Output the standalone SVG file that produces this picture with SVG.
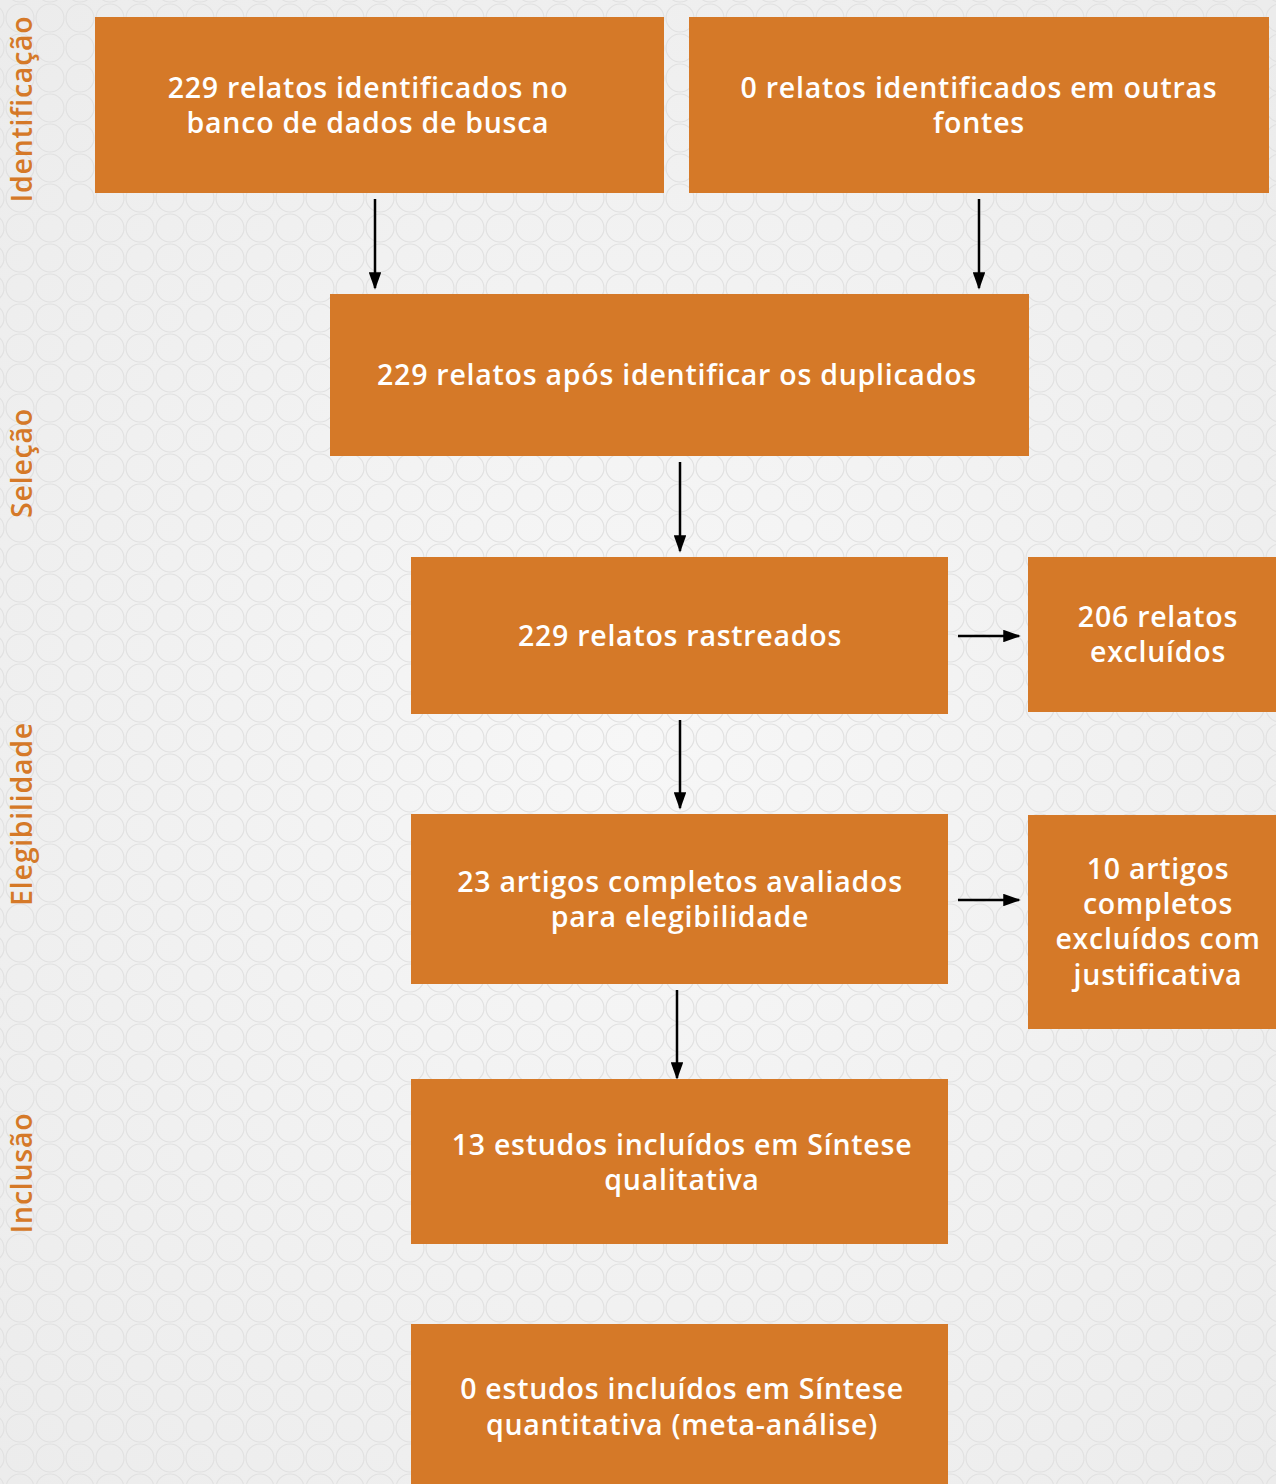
<svg xmlns="http://www.w3.org/2000/svg" width="1276" height="1484" viewBox="0 0 1276 1484">
<defs>
<radialGradient id="bg" cx="0.5" cy="0.5" r="0.7">
<stop offset="0" stop-color="#f7f7f7"/>
<stop offset="1" stop-color="#ececec"/>
</radialGradient>
<pattern id="circ" x="5" y="3" width="30" height="30" patternUnits="userSpaceOnUse">
<circle cx="15" cy="15" r="14" fill="none" stroke="#e1e1e1" stroke-width="1.2"/>
</pattern>
<marker id="ah" viewBox="0 0 10 10" refX="9" refY="5" markerWidth="7" markerHeight="5" orient="auto" markerUnits="strokeWidth" preserveAspectRatio="none">
<path d="M0,0 L10,5 L0,10 Z" fill="#000"/>
</marker>
<style>
.box{fill:#d57928}
.t{font-family:"Open Sans","Liberation Sans",sans-serif;font-weight:600;font-size:28.5px;fill:#fff;text-anchor:middle;letter-spacing:0.75px}
.side{font-family:"Open Sans","Liberation Sans",sans-serif;font-weight:600;font-size:28.5px;fill:#d57928;text-anchor:middle;letter-spacing:0.75px}
.c{stroke:#000;stroke-width:2.5;fill:none;marker-end:url(#ah)}
</style>
</defs>
<rect width="1276" height="1484" fill="url(#bg)"/>
<rect width="1276" height="1484" fill="url(#circ)"/>
<g id="labels">
<text class="side" transform="translate(32,109) rotate(-90)">Identificação</text>
<text class="side" transform="translate(32,463) rotate(-90)">Seleção</text>
<text class="side" transform="translate(32,814) rotate(-90)">Elegibilidade</text>
<text class="side" transform="translate(32,1173) rotate(-90)">Inclusão</text>
</g>
<g id="connectors">
<line class="c" x1="375" y1="199" x2="375" y2="288"/>
<line class="c" x1="979" y1="199" x2="979" y2="288"/>
<line class="c" x1="680" y1="462" x2="680" y2="551"/>
<line class="c" x1="680" y1="720" x2="680" y2="808"/>
<line class="c" x1="677" y1="990" x2="677" y2="1078"/>
<line class="c" x1="958" y1="636" x2="1019" y2="636"/>
<line class="c" x1="958" y1="900" x2="1019" y2="900"/>
</g>
<g id="n1"><rect class="box" x="95" y="17" width="569" height="176"/>
<text class="t" x="368" y="98">229 relatos identificados no</text>
<text class="t" x="368" y="133">banco de dados de busca</text></g>
<g id="n2"><rect class="box" x="689" y="17" width="580" height="176"/>
<text class="t" x="979" y="98">0 relatos identificados em outras</text>
<text class="t" x="979" y="133">fontes</text></g>
<g id="n3"><rect class="box" x="330" y="294" width="699" height="162"/>
<text class="t" x="677" y="385">229 relatos após identificar os duplicados</text></g>
<g id="n4"><rect class="box" x="411" y="557" width="537" height="157"/>
<text class="t" x="680" y="646">229 relatos rastreados</text></g>
<g id="n5"><rect class="box" x="1028" y="557" width="248" height="155"/>
<text class="t" x="1158" y="627">206 relatos</text>
<text class="t" x="1158" y="662">excluídos</text></g>
<g id="n6"><rect class="box" x="411" y="814" width="537" height="170"/>
<text class="t" x="680" y="892">23 artigos completos avaliados</text>
<text class="t" x="680" y="927">para elegibilidade</text></g>
<g id="n7"><rect class="box" x="1028" y="815" width="248" height="214"/>
<text class="t" x="1158" y="879">10 artigos</text>
<text class="t" x="1158" y="914">completos</text>
<text class="t" x="1158" y="949">excluídos com</text>
<text class="t" x="1158" y="985">justificativa</text></g>
<g id="n8"><rect class="box" x="411" y="1079" width="537" height="165"/>
<text class="t" x="682" y="1155">13 estudos incluídos em Síntese</text>
<text class="t" x="682" y="1190">qualitativa</text></g>
<g id="n9"><rect class="box" x="411" y="1324" width="537" height="160"/>
<text class="t" x="682" y="1399">0 estudos incluídos em Síntese</text>
<text class="t" x="682" y="1435">quantitativa (meta-análise)</text></g>
</svg>
